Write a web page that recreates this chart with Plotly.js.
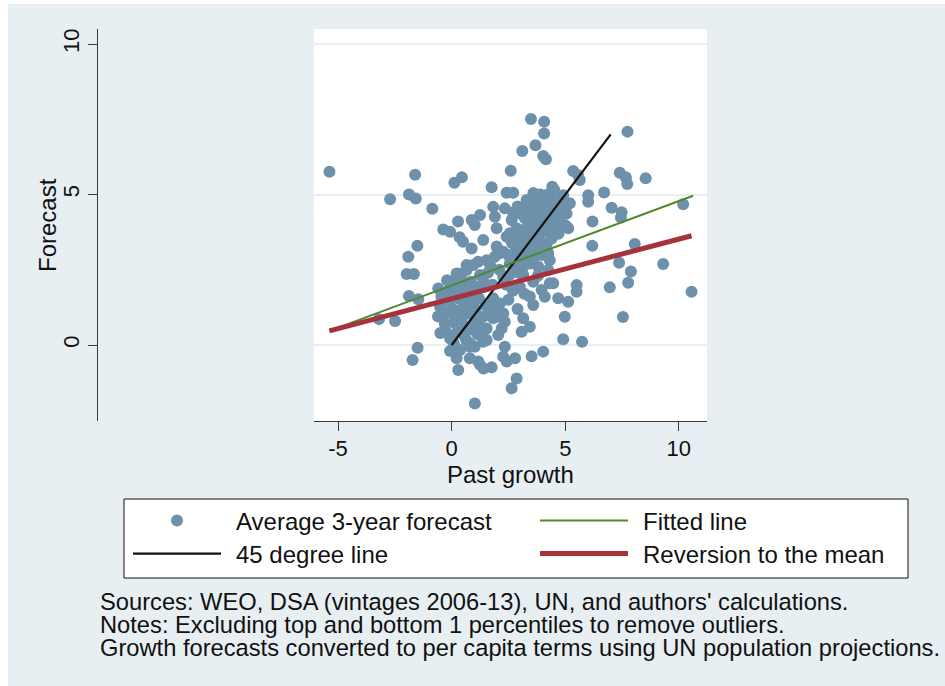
<!DOCTYPE html>
<html>
<head>
<meta charset="utf-8">
<script src="https://cdn.plot.ly/plotly-3.0.1.min.js"></script>
<style>
  html, body { margin: 0; padding: 0; background: #ffffff; }
  #plot { position: absolute; left: 8px; top: 4px; width: 937px; height: 682px; }
</style>
</head>
<body>
<div id="plot"></div>
<script>
// ---- Data ----
const pastGrowth = [
  -5.38,-1.61,0.12,0.45,-2.71,-1.88,-1.58,-0.85,-0.37,-0.07,0.28,0.35,0.50,-1.51,-1.91,
  3.49,4.07,4.07,3.69,3.11,4.03,4.15,2.60,5.35,5.56,5.64,1.76,2.42,2.71,4.43,3.59,3.96,4.91,4.76,1.83,2.34,4.98,5.06,1.25,0.88,1.02,1.90,2.64,3.15,1.98,1.39,0.88,5.06,1.98,2.12,2.42,2.56,
  7.74,7.40,7.67,7.73,8.54,6.71,6.01,6.01,5.20,7.04,7.48,7.45,10.19,6.20,6.19,8.06,7.37,7.89,9.31,6.96,7.77,5.50,10.56,7.54,5.74,
  -1.98,-1.66,-1.88,-1.47,-3.20,-2.49,-1.50,-1.72,
  0.29,-0.07,1.02,1.76,1.25,0.80,0.22,2.34,2.27,2.42,2.86,2.64,2.79,3.52,4.03,4.91,3.08,3.44,3.15,2.05,2.27,2.34,4.98,1.83,2.12,1.90,3.59,3.96,4.32,4.69,5.13,0.66,1.25,1.54,1.02,-0.07,1.17,1.40,0.95,1.17,0.80,1.98,2.20,0.37,0.66,1.02,
  3.00,3.30,2.86,2.27,1.90,0.66,0.44,0.15,0.95,1.17,1.54,1.69,2.56,2.79,3.00,3.15,3.00,2.27,2.56,
  3.74,4.03,4.98,4.84,4.98,5.13,4.54,3.44,3.59,3.23,4.25,4.03,3.81,3.15,3.37,3.00,3.88,4.18,4.40,3.66,3.96,4.25,2.86,3.44,3.81,4.32,4.25,2.86,3.15,4.47,5.50,
  2.80,3.05,3.20,3.30,3.45,3.50,3.62,3.72,3.82,3.92,4.02,4.12,4.20,4.30,4.40,4.50,4.62,4.70,3.30,3.52,3.70,3.90,4.10,3.10,2.92,2.70,3.60,4.42,4.62,3.40,3.20,3.90,4.22,4.52,2.90,3.60,4.80,4.70,3.75,4.00,3.25,2.65,2.70,3.55,4.35,
  2.05,2.49,1.40,3.00,3.59,3.44,2.70,2.50,3.20,1.80,2.10,2.40,1.60,2.90,3.80,4.10,
  -0.59,-0.51,-0.22,0.37,0.66,1.02,0.00,0.15,0.51,0.22,0.80,0.59,1.39,1.32,1.39,0.80,0.37,1.54,1.83,0.51,1.10,0.22,-0.37,-0.45,-0.30,-0.15,-0.10,0.05,0.10,0.28,0.45,0.70,0.90,1.05,1.20,-0.50,-0.25,0.25,0.55,1.25,1.50,-0.60,0.00,-0.20,0.85,0.35,1.15,0.10,1.70,0.65
];
const avgForecast = [
  5.76,5.66,5.39,5.57,4.84,5.00,4.87,4.53,3.84,3.76,4.10,3.58,3.43,3.30,2.93,
  7.51,7.42,7.03,6.64,6.45,6.28,6.17,5.79,5.78,5.65,5.48,5.24,5.06,5.06,5.26,4.82,4.93,4.98,4.82,4.59,4.54,4.59,4.37,4.32,4.15,3.99,4.26,4.15,4.37,3.88,3.49,3.21,3.93,3.27,3.05,3.60,3.71,
  7.09,5.72,5.57,5.35,5.54,5.07,4.98,4.76,4.71,4.56,4.41,4.24,4.68,4.10,3.30,3.36,2.73,2.44,2.69,1.92,2.07,1.77,1.77,0.93,0.11,
  2.36,2.36,1.63,1.52,0.86,0.80,-0.09,-0.50,
  -0.83,0.22,-1.94,-0.74,-0.66,-0.44,-0.44,-0.06,-0.39,-0.55,-1.11,-1.44,-0.44,-0.37,-0.22,0.19,0.44,0.61,0.89,0.33,1.05,0.77,0.94,1.55,1.38,1.22,1.33,1.83,2.05,1.55,1.44,2.66,2.33,0.17,-0.06,-0.20,-0.55,-0.78,0.50,0.72,-0.06,0.94,0.55,0.94,1.05,0.83,
  4.37,4.82,3.88,3.10,2.93,2.49,2.38,2.16,2.66,2.77,2.82,2.66,2.71,2.82,2.93,2.60,2.38,2.27,2.33,
  4.76,4.71,4.71,4.49,3.99,3.88,3.99,4.49,4.32,4.21,4.21,4.04,3.93,3.71,3.60,3.43,3.38,3.32,3.54,3.16,2.99,3.05,3.16,2.71,2.60,2.82,2.49,2.49,2.33,2.05,1.99,
  3.30,3.10,3.50,3.90,4.10,3.70,4.02,4.40,4.60,4.30,4.50,3.80,4.62,4.00,4.80,4.40,4.70,4.20,3.20,3.40,3.60,3.70,4.20,3.80,3.60,3.00,2.90,3.80,4.00,4.70,4.60,5.00,5.00,5.15,4.60,5.05,4.30,3.70,3.20,3.40,2.90,3.40,4.40,4.60,4.45,
  3.16,2.99,2.10,1.94,2.10,1.61,1.80,1.50,1.70,2.00,2.50,2.00,2.40,1.20,2.30,1.60,
  1.88,1.27,1.05,1.16,1.38,0.66,0.28,1.72,1.44,1.00,1.11,0.61,0.94,0.39,0.11,0.06,-0.17,0.55,0.89,2.10,1.83,2.38,1.11,1.60,0.70,1.80,1.45,1.20,0.75,1.55,0.85,1.80,1.55,1.20,1.55,0.40,0.45,0.45,0.30,1.95,1.30,0.95,2.00,2.15,2.10,1.85,0.35,0.05,1.10,0.15
];
const line45X = [0, 7];
const line45Y = [0, 7];
const fitX = [-5.38, 10.63];
const fitY = [0.47, 4.96];
const revX = [-5.38, 10.56];
const revY = [0.47, 3.63];
const xTickVals = [-5, 0, 5, 10];
const xTickText = ['-5', '0', '5', '10'];
const yTickVals = [0, 5, 10];
const yTickText = ['0', '5', '10'];
const xTitle = 'Past growth';
const yTitle = 'Forecast';
const seriesNames = ['Average 3-year forecast', '45 degree line', 'Fitted line', 'Reversion to the mean'];
const notes = [
  "Sources: WEO, DSA (vintages 2006-13), UN, and authors' calculations.",
  "Notes: Excluding top and bottom 1 percentiles to remove outliers.",
  "Growth forecasts converted to per capita terms using UN population projections."
];

// ---- Styling ----
const W = 937, H = 682;
const px = v => v / W;
const py = v => 1 - v / H;
const tickFont = { family: "'Liberation Sans', Arial, sans-serif", size: 22, color: '#111111' };
const textFont = { family: "'Liberation Sans', Arial, sans-serif", size: 24, color: '#111111' };
const noteFont = { family: "'Liberation Sans', Arial, sans-serif", size: 23.7, color: '#111111' };
const NOTE_LINE_GAP = 23;   // px between note lines, as tight as in the reference

const traces = [
  { type: 'scatter', mode: 'markers', x: pastGrowth, y: avgForecast, name: seriesNames[0],
    marker: { color: '#6d91ab', size: 12 }, legend: 'legend', legendrank: 1 },
  { type: 'scatter', mode: 'lines', x: line45X, y: line45Y, name: seriesNames[1],
    line: { color: '#111111', width: 2.2 }, legend: 'legend2', legendrank: 1 },
  { type: 'scatter', mode: 'lines', x: fitX, y: fitY, name: seriesNames[2],
    line: { color: '#4d8a2c', width: 2 }, legend: 'legend', legendrank: 2, legendwidth: 270 },
  { type: 'scatter', mode: 'lines', x: revX, y: revY, name: seriesNames[3],
    line: { color: '#a6333b', width: 5 }, legend: 'legend2', legendrank: 2, legendwidth: 270 }
];

const legendCommon = {
  orientation: 'h', xanchor: 'left', yanchor: 'middle', x: px(120),
  bgcolor: 'rgba(0,0,0,0)', borderwidth: 0, font: textFont,
  itemwidth: 88, entrywidth: 304, entrywidthmode: 'pixels', traceorder: 'normal'
};

const layout = {
  width: W, height: H,
  margin: { l: 0, r: 0, t: 0, b: 0 },
  paper_bgcolor: '#e7eff3',
  plot_bgcolor: '#ffffff',
  showlegend: true,
  xaxis: {
    domain: [px(306), px(699)],
    range: [-6.06, 11.24],
    tickvals: xTickVals, ticktext: xTickText,
    showline: true, linecolor: '#3a3a3a', linewidth: 1.2,
    ticks: 'outside', ticklen: 9, tickwidth: 1.4, tickcolor: '#3a3a3a',
    ticklabelstandoff: -2,
    showgrid: false, zeroline: false,
    tickfont: tickFont
  },
  yaxis: {
    domain: [py(417), py(25)],
    range: [-2.525, 10.5],
    anchor: 'free', position: px(89), side: 'left',
    tickvals: yTickVals, ticktext: yTickText, tickangle: -90,
    showline: true, linecolor: '#3a3a3a', linewidth: 1.2,
    ticks: 'outside', ticklen: 9, tickwidth: 1.4, tickcolor: '#3a3a3a',
    showgrid: true, gridcolor: '#e7eff3', gridwidth: 2, zeroline: false,
    tickfont: tickFont
  },
  legend: Object.assign({}, legendCommon, { y: py(517) }),
  legend2: Object.assign({}, legendCommon, { y: py(550) }),
  shapes: [
    { type: 'rect', xref: 'paper', yref: 'paper', x0: px(116), x1: px(900), y0: py(574), y1: py(495),
      fillcolor: '#ffffff', line: { color: '#111111', width: 1 }, layer: 'below' }
  ],
  annotations: [
    { text: xTitle, xref: 'paper', yref: 'paper', x: px(502.5), y: py(470),
      xanchor: 'center', yanchor: 'middle', showarrow: false, font: textFont },
    { text: yTitle, xref: 'paper', yref: 'paper', x: px(40), y: py(221), textangle: -90,
      xanchor: 'center', yanchor: 'middle', showarrow: false, font: textFont },
    { text: notes.join('<br>'), xref: 'paper', yref: 'paper', x: px(90), y: py(583),
      xanchor: 'left', yanchor: 'top', align: 'left', showarrow: false, font: noteFont }
  ]
};

Plotly.newPlot('plot', traces, layout, { displayModeBar: false, responsive: false }).then(gd => {
  // the reference leaves a wider gap between each legend key and its label
  gd.querySelectorAll('g.infolayer [class*="legend"] text').forEach(t => {
    const prev = t.getAttribute('transform') || '';
    t.setAttribute('transform', prev + ' translate(10 0)');
  });
  // tighten the line spacing of the notes block to match the reference
  gd.querySelectorAll('g.infolayer .annotation-text').forEach(t => {
    const lines = t.querySelectorAll('tspan.line');
    if (lines.length > 1) {
      const y0 = t.getStartPositionOfChar(0).y;
      lines.forEach((l, i) => {
        l.removeAttribute('dy');
        l.setAttribute('y', y0 + i * NOTE_LINE_GAP);
      });
    }
  });
});
</script>
</body>
</html>
